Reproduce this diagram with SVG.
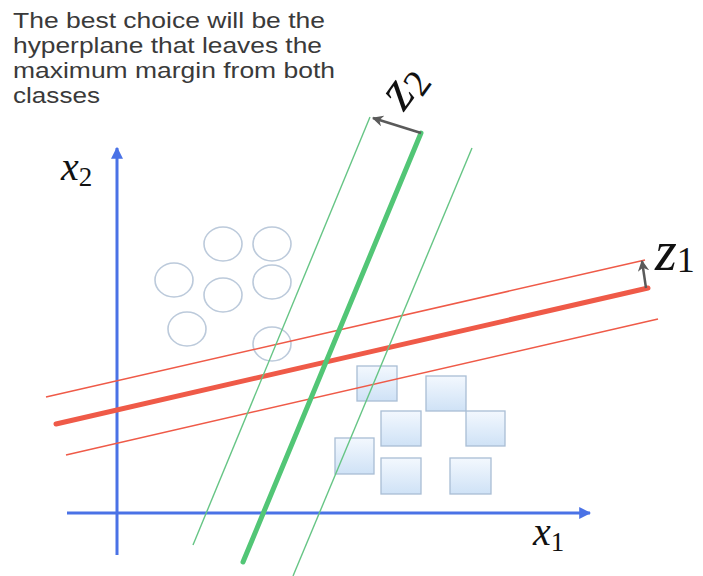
<svg xmlns="http://www.w3.org/2000/svg" width="703" height="576" viewBox="0 0 703 576">
<style>
.cap{font-family:"Liberation Sans",Arial,sans-serif;font-size:22px;fill:#3a3a3a}
.math{font-family:"Liberation Serif","Times New Roman",serif;font-style:italic;fill:#111}
.sub{font-style:normal}
.axis{stroke:#4a72e6;stroke-width:3;fill:none}
.redT{stroke:#ef5a48;stroke-width:5;stroke-linecap:round;fill:none}
.red{stroke:#ef5a48;stroke-width:1.5;fill:none}
.greenT{stroke:#52c676;stroke-width:5;stroke-linecap:round;fill:none}
.green{stroke:#66c585;stroke-width:1.4;fill:none}
.norm{stroke:#5a5a5a;stroke-width:2.5;fill:none}
.circ{fill:none;stroke:#bccadb;stroke-width:1.6}
.sq{fill:url(#sqg);stroke:#a9bdd5;stroke-width:1.3}
</style>
<defs>
<linearGradient id="sqg" x1="0" y1="0" x2="0" y2="1">
<stop offset="0" stop-color="#f3f8fe"/>
<stop offset="1" stop-color="#cfe2f6"/>
</linearGradient>
<marker id="ab" viewBox="0 0 10 10" refX="9" refY="5" markerWidth="4" markerHeight="4" orient="auto" markerUnits="strokeWidth">
<path d="M0,0 L10,5 L0,10 z" fill="#4a72e6"/>
</marker>
<marker id="ag" viewBox="0 0 10 10" refX="9" refY="5" markerWidth="4.5" markerHeight="4.5" orient="auto" markerUnits="strokeWidth">
<path d="M0,0 L10,5 L0,10 L3,5 z" fill="#5a5a5a"/>
</marker>
</defs>
<rect width="703" height="576" fill="#ffffff"/>

<g id="caption">
<text class="cap" x="13" y="28" textLength="312" lengthAdjust="spacingAndGlyphs">The best choice will be the</text>
<text class="cap" x="13" y="53" textLength="309" lengthAdjust="spacingAndGlyphs">hyperplane that leaves the</text>
<text class="cap" x="13" y="78" textLength="322" lengthAdjust="spacingAndGlyphs">maximum margin from both</text>
<text class="cap" x="13" y="103" textLength="87" lengthAdjust="spacingAndGlyphs">classes</text>
</g>

<g id="class-circles">
<ellipse class="circ" cx="223" cy="244" rx="19" ry="17"/>
<ellipse class="circ" cx="272" cy="244" rx="19" ry="17"/>
<ellipse class="circ" cx="174" cy="280" rx="19" ry="17"/>
<ellipse class="circ" cx="223" cy="295" rx="19" ry="17"/>
<ellipse class="circ" cx="272" cy="282" rx="19" ry="17"/>
<ellipse class="circ" cx="187" cy="329" rx="19" ry="17"/>
<ellipse class="circ" cx="272" cy="344" rx="19" ry="17"/>
</g>

<g id="class-squares">
<rect class="sq" x="357" y="366" width="40" height="35"/>
<rect class="sq" x="426" y="376" width="40" height="35"/>
<rect class="sq" x="381" y="411" width="40" height="35"/>
<rect class="sq" x="466" y="411" width="39" height="35"/>
<rect class="sq" x="335" y="438" width="39" height="36"/>
<rect class="sq" x="381" y="458" width="40" height="36"/>
<rect class="sq" x="450" y="458" width="41" height="36"/>
</g>

<g id="connectors">
<line id="axis-x1" class="axis" x1="67" y1="513" x2="590" y2="513" marker-end="url(#ab)"/>
<line id="axis-x2" class="axis" x1="117" y1="555" x2="117" y2="148" marker-end="url(#ab)"/>
<line id="red-upper" class="red" x1="46" y1="397" x2="645" y2="260"/>
<line id="red-main" class="redT" x1="56" y1="424" x2="648" y2="288"/>
<line id="red-lower" class="red" x1="66" y1="455" x2="658" y2="319"/>
<line id="green-left" class="green" x1="370" y1="117" x2="193" y2="545"/>
<line id="green-main" class="greenT" x1="421" y1="133" x2="243" y2="562"/>
<line id="green-right" class="green" x1="472" y1="148" x2="293" y2="576"/>
<line id="z1-normal" class="norm" x1="646" y1="288" x2="642" y2="261" marker-end="url(#ag)"/>
<line id="z2-normal" class="norm" x1="421" y1="133" x2="373" y2="118" marker-end="url(#ag)"/>
</g>

<g id="label-x2"><text class="math" x="61" y="180" font-size="40">x<tspan class="sub" font-size="27" dy="6">2</tspan></text></g>
<g id="label-x1"><text class="math" x="533" y="545" font-size="40">x<tspan class="sub" font-size="27" dy="6">1</tspan></text></g>
<g id="label-z1"><text class="math" x="655" y="270" font-size="56">z<tspan class="sub" font-size="36" dy="2">1</tspan></text></g>
<g id="label-z2"><text class="math" transform="translate(404,112) rotate(-54)" font-size="56">z<tspan class="sub" font-size="38" dy="6">2</tspan></text></g>
</svg>
